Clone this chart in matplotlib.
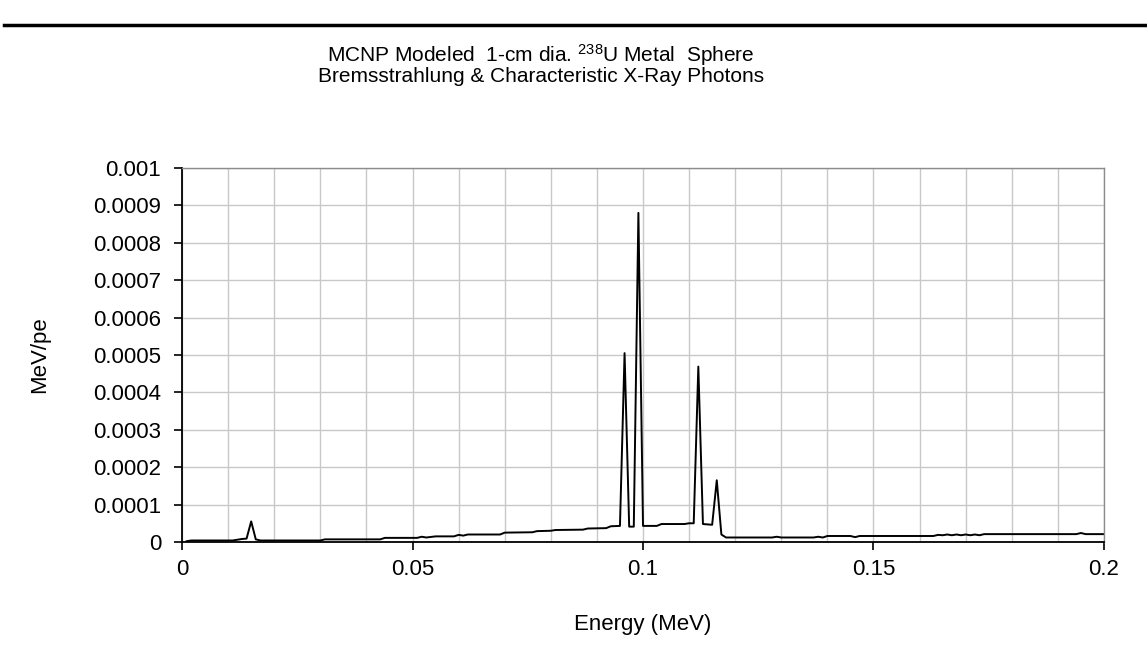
import matplotlib.pyplot as plt
from matplotlib.lines import Line2D

# Spectrum (MeV, MeV/pe)
energy = [0.001, 0.002, 0.011, 0.012, 0.013, 0.014, 0.015, 0.016, 0.017, 0.030,
          0.031, 0.043, 0.044, 0.051, 0.052, 0.053, 0.055, 0.059, 0.060, 0.061,
          0.062, 0.069, 0.070, 0.076, 0.077, 0.080, 0.081, 0.087, 0.088, 0.092,
          0.093, 0.095, 0.096, 0.097, 0.098, 0.099, 0.100, 0.103, 0.104, 0.109,
          0.110, 0.111, 0.112, 0.113, 0.115, 0.116, 0.117, 0.118, 0.128, 0.129,
          0.130, 0.137, 0.138, 0.139, 0.140, 0.145, 0.146, 0.147, 0.163, 0.164,
          0.165, 0.166, 0.167, 0.168, 0.169, 0.170, 0.171, 0.172, 0.173, 0.174,
          0.194, 0.195, 0.196, 0.200]
mev_pe = [0.000002, 0.000004, 0.000004, 0.000006, 0.000008, 0.000009, 0.000055, 0.000007, 0.000004, 0.000004,
          0.000007, 0.000007, 0.000011, 0.000011, 0.000014, 0.000012, 0.000015, 0.000015, 0.000019, 0.000017,
          0.000020, 0.000020, 0.000025, 0.000026, 0.000029, 0.000030, 0.000032, 0.000033, 0.000036, 0.000037,
          0.000042, 0.000043, 0.000505, 0.000041, 0.000041, 0.000880, 0.000043, 0.000043, 0.000048, 0.000048,
          0.000050, 0.000050, 0.000469, 0.000048, 0.000046, 0.000165, 0.000020, 0.000012, 0.000012, 0.000014,
          0.000012, 0.000012, 0.000014, 0.000012, 0.000016, 0.000016, 0.000013, 0.000016, 0.000016, 0.000019,
          0.000018, 0.000020, 0.000018, 0.000020, 0.000018, 0.000020, 0.000018, 0.000020, 0.000018, 0.000021,
          0.000021, 0.000024, 0.000021, 0.000021]

xticks = [0, 0.05, 0.1, 0.15, 0.2]
xtick_labels = ['0', '0.05', '0.1', '0.15', '0.2']
yticks = [0, 0.0001, 0.0002, 0.0003, 0.0004, 0.0005, 0.0006, 0.0007, 0.0008, 0.0009, 0.001]
ytick_labels = ['0', '0.0001', '0.0002', '0.0003', '0.0004', '0.0005',
                '0.0006', '0.0007', '0.0008', '0.0009', '0.001']

plt.rcParams['font.family'] = ['Liberation Sans', 'DejaVu Sans']
plt.rcParams['mathtext.fontset'] = 'custom'
plt.rcParams['mathtext.rm'] = 'Liberation Sans'
plt.rcParams['mathtext.default'] = 'regular'

fig = plt.figure(figsize=(11.47, 6.62), dpi=100)
ax = fig.add_axes([0.1587, 0.1813, 0.8038, 0.5649])

# grid every 0.01 MeV and 0.0001 MeV/pe
ax.set_xticks([i * 0.01 for i in range(21)], minor=True)
ax.grid(True, which='both', axis='x', color='#c8c8c8', lw=1.0)
ax.grid(True, which='major', axis='y', color='#c8c8c8', lw=1.0)
ax.set_axisbelow(True)

ax.plot(energy, mev_pe, color='black', lw=1.4)

ax.set_xlim(0, 0.2)
ax.set_ylim(0, 0.001)
ax.set_xticks(xticks)
ax.set_xticklabels(xtick_labels)
ax.set_yticks(yticks)
ax.set_yticklabels(ytick_labels)
ax.tick_params(axis='both', which='major', direction='out', length=6, width=1.2,
               labelsize=16, colors='black')
ax.tick_params(axis='y', pad=9)
ax.tick_params(axis='x', pad=6)
ax.tick_params(axis='x', which='minor', length=0)

for side in ['left', 'bottom']:
    ax.spines[side].set_color('black')
    ax.spines[side].set_linewidth(1.3)
for side in ['top', 'right']:
    ax.spines[side].set_color('#8c8c8c')
    ax.spines[side].set_linewidth(1.0)

ax.set_xlabel('Energy (MeV)', fontsize=16)
ax.xaxis.set_label_coords(0.5, -0.22)
ax.xaxis.label.set_va('center')
ax.set_ylabel('MeV/pe', fontsize=16)
ax.yaxis.set_label_coords(-0.154, 0.5)
ax.yaxis.label.set_va('center')

title_font = ['Liberation Sans Narrow', 'Liberation Sans', 'DejaVu Sans']
fig.text(541 / 1147, 1 - 55 / 662, 'MCNP Modeled  1-cm dia. $^{238}$U Metal  Sphere',
         ha='center', va='center', fontsize=15, family=title_font)
fig.text(541 / 1147, 1 - 76 / 662, 'Bremsstrahlung & Characteristic X-Ray Photons',
         ha='center', va='center', fontsize=15, family=title_font)

# rule across the top of the page
fig.add_artist(Line2D([4 / 1147, 1], [1 - 25 / 662, 1 - 25 / 662],
                      transform=fig.transFigure, color='black', lw=2.5))

plt.savefig('out.png', dpi=100)
